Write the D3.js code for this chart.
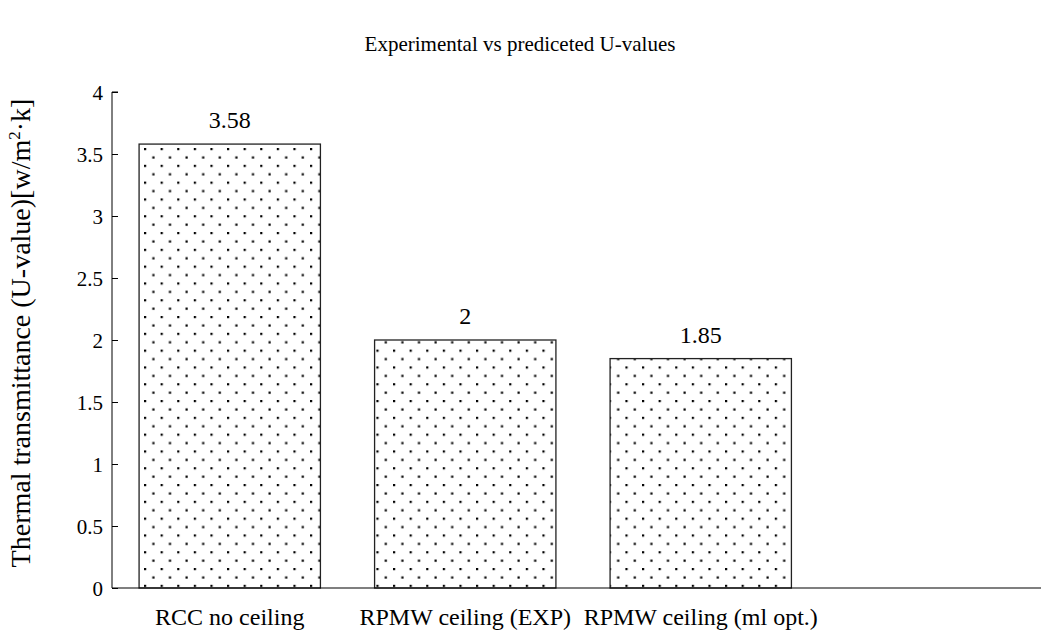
<!DOCTYPE html>
<html>
<head>
<meta charset="utf-8">
<script src="https://cdn.jsdelivr.net/npm/d3@7"></script>
<style>
  body { margin: 0; background: #fff; }
  svg { display: block; font-family: "Liberation Serif", "Times New Roman", serif; }
  svg text { font-family: "Liberation Serif", "Times New Roman", serif; fill: #000; }
</style>
</head>
<body>
<svg id="chart" width="1041" height="631"></svg>
<script>
// Chart data
const categories = ["RCC no ceiling", "RPMW ceiling (EXP)", "RPMW ceiling (ml opt.)"];
const uValues = [3.58, 2, 1.85];
const yTicks = [0, 0.5, 1, 1.5, 2, 2.5, 3, 3.5, 4];
const titleText = "Experimental vs prediceted U-values";

const svg = d3.select("#chart");
const plotLeft = 112, plotRight = 1054, plotTop = 92, plotBottom = 588;

// One spare slot at the end keeps the category axis running wide
const slots = [...categories, "__spare"];
const x = d3.scaleBand().domain(slots).range([plotLeft, plotRight])
  .paddingInner(0.23).paddingOuter(0.115);
const y = d3.scaleLinear().domain([0, 4]).range([plotBottom, plotTop]);

// Dotted fill
const defs = svg.append("defs");
const pat = defs.append("pattern")
  .attr("id", "dots")
  .attr("patternUnits", "userSpaceOnUse")
  .attr("width", 16.6).attr("height", 16.8)
  .attr("x", 144).attr("y", 148);
pat.append("rect").attr("width", 16.6).attr("height", 16.8).attr("fill", "#fff");
pat.append("rect").attr("x", 0).attr("y", 0).attr("width", 2.2).attr("height", 2.2).attr("fill", "#000");
pat.append("rect").attr("x", 8.3).attr("y", 8.4).attr("width", 2.2).attr("height", 2.2).attr("fill", "#000");

// Title
svg.append("text")
  .attr("x", 520).attr("y", 51)
  .attr("text-anchor", "middle")
  .style("font-size", "21px")
  .text(titleText);

// Bars
svg.selectAll("rect.bar")
  .data(uValues)
  .join("rect")
  .attr("class", "bar")
  .attr("x", (d, i) => x(categories[i]))
  .attr("y", d => y(d))
  .attr("width", x.bandwidth())
  .attr("height", d => y(0) - y(d))
  .attr("fill", "url(#dots)")
  .attr("stroke", "#222")
  .attr("stroke-width", 1.3);

// Value labels
svg.selectAll("text.val")
  .data(uValues)
  .join("text")
  .attr("class", "val")
  .attr("x", (d, i) => x(categories[i]) + x.bandwidth() / 2)
  .attr("y", d => y(d) - 16)
  .attr("text-anchor", "middle")
  .style("font-size", "24px")
  .text(d => d);

// Y axis
const yAxis = d3.axisRight(y).tickValues(yTicks).tickSize(6).tickFormat(d3.format("~g"));
const yg = svg.append("g").attr("transform", `translate(${plotLeft},0)`).call(yAxis);
yg.attr("font-family", null).attr("font-size", null);
yg.select(".domain").attr("d", `M6,${plotTop}H0V${plotBottom}`).attr("stroke", "#000");
yg.selectAll(".tick line").attr("stroke", "#000");
yg.selectAll(".tick text")
  .attr("x", -9)
  .attr("dy", "0.35em")
  .attr("text-anchor", "end")
  .style("font-size", "21px");

// X axis baseline
svg.append("line")
  .attr("x1", plotLeft).attr("x2", 1041)
  .attr("y1", plotBottom).attr("y2", plotBottom)
  .attr("stroke", "#000").attr("stroke-width", 1.2);

// Category labels
svg.selectAll("text.cat")
  .data(categories)
  .join("text")
  .attr("class", "cat")
  .attr("x", d => x(d) + x.bandwidth() / 2)
  .attr("y", 625)
  .attr("text-anchor", "middle")
  .style("font-size", "24px")
  .text(d => d);

// Y axis title
const yt = svg.append("text")
  .attr("transform", "translate(30,333) rotate(-90)")
  .attr("text-anchor", "middle")
  .style("font-size", "28px");
yt.append("tspan").text("Thermal transmittance (U-value)[w/m");
yt.append("tspan").style("font-size", "17px").attr("dy", -10).text("2");
yt.append("tspan").attr("dy", 10).text("·k]");
</script>
</body>
</html>
